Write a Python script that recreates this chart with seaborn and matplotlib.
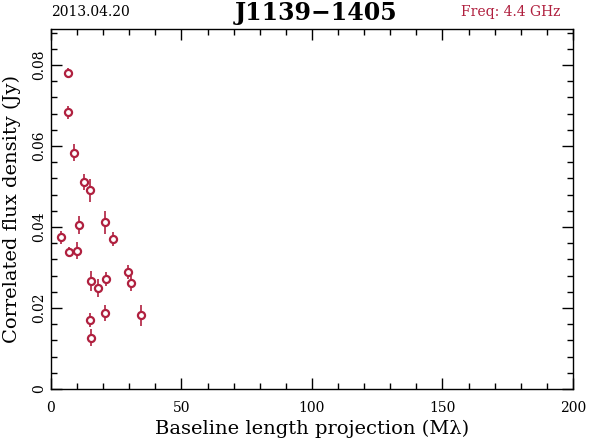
import matplotlib
matplotlib.use("Agg")
import matplotlib.pyplot as plt
import seaborn as sns
import pandas as pd
from matplotlib.ticker import MultipleLocator

baseline = [6.6, 6.6, 8.7, 12.5, 15.0, 3.9, 6.8, 9.9, 10.9, 20.6, 23.7, 15.2, 18.1, 21.1, 29.6, 30.5, 14.9, 20.6, 15.4, 34.4]
flux = [0.0780, 0.0683, 0.0584, 0.0512, 0.0491, 0.0375, 0.0338, 0.0342, 0.0405, 0.0412, 0.0370, 0.0267, 0.0250, 0.0272, 0.0289, 0.0261, 0.0170, 0.0187, 0.0127, 0.0182]
flux_err = [0.0013, 0.0017, 0.0020, 0.0020, 0.0028, 0.0016, 0.0012, 0.0020, 0.0023, 0.0028, 0.0017, 0.0025, 0.0022, 0.0018, 0.0017, 0.0019, 0.0018, 0.0020, 0.0020, 0.0026]

df = pd.DataFrame({"baseline": baseline, "flux": flux, "err": flux_err})

sns.set_theme(style="white")
plt.rcParams['font.family'] = ['DejaVu Serif', 'DejaVu Sans']
plt.rcParams['text.color'] = 'black'
plt.rcParams['axes.labelcolor'] = 'black'
plt.rcParams['xtick.color'] = 'black'
plt.rcParams['ytick.color'] = 'black'
col = "#B0203F"

fig = plt.figure(figsize=(5.9, 4.43), dpi=100)
ax = fig.add_axes([0.0864, 0.1219, 0.8847, 0.8126])

ax.errorbar(df["baseline"], df["flux"], yerr=df["err"], fmt="none", ecolor=col, elinewidth=1.2, capsize=0, zorder=2)
sns.scatterplot(data=df, x="baseline", y="flux", ax=ax, marker="o", s=26, facecolor="white",
                edgecolor=col, linewidth=1.6, zorder=3, legend=False)

ax.set_xlim(0, 200)
ax.set_ylim(0, 0.0889)
ax.xaxis.set_major_locator(MultipleLocator(50))
ax.xaxis.set_minor_locator(MultipleLocator(10))
ax.yaxis.set_major_locator(MultipleLocator(0.02))
ax.yaxis.set_minor_locator(MultipleLocator(0.004))
ax.tick_params(which="both", direction="in", top=True, right=True, bottom=True, left=True, colors="black", labelsize=10)
ax.tick_params(which="major", length=8, width=1)
ax.tick_params(which="minor", length=4, width=1)
ax.tick_params(axis="x", pad=9)
ax.yaxis.set_major_formatter(matplotlib.ticker.FuncFormatter(lambda v, p: "0" if v == 0 else f"{v:.2f}"))
for lab in ax.get_yticklabels():
    lab.set_rotation(90)
    lab.set_va("center")
for s in ax.spines.values():
    s.set_color("black")
    s.set_linewidth(1)

ax.set_xlabel("Baseline length projection (M\u03bb)", fontsize=14, labelpad=3, color="black")
ax.set_ylabel("Correlated flux density (Jy)", fontsize=14, labelpad=8, color="black")

fig.text(0.153, 0.972, "2013.04.20", ha="center", va="center", fontsize=10, color="black")
fig.text(0.535, 0.970, "J1139\u22121405", ha="center", va="center", fontsize=17, fontweight="bold", color="black")
fig.text(0.865, 0.972, "Freq: 4.4 GHz", ha="center", va="center", fontsize=10, color=col)

fig.savefig("out.png", dpi=100)
